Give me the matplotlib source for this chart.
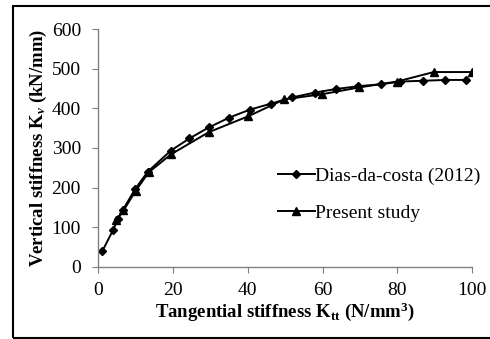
import matplotlib
matplotlib.use('Agg')
import matplotlib.pyplot as plt
from matplotlib.patches import Rectangle

plt.rcParams['font.family'] = ['Liberation Serif', 'DejaVu Serif']
plt.rcParams['mathtext.fontset'] = 'custom'
plt.rcParams['mathtext.rm'] = 'Liberation Serif:bold'
plt.rcParams['mathtext.bf'] = 'Liberation Serif:bold'
plt.rcParams['mathtext.it'] = 'Liberation Serif:bold:italic'

# Dias-da-costa (2012)
k_dias = [1.2, 4.0, 5.3, 6.7, 9.9, 13.3, 19.4, 24.4, 29.6, 35.1, 40.6, 46.2,
          51.9, 57.9, 63.5, 69.4, 75.5, 80.8, 86.9, 92.8, 98.3]
kv_dias = [40, 92, 120, 144, 196, 240, 293, 324, 352, 377, 397, 412,
           428, 440, 449, 456, 461, 468, 470, 472, 472]

# present study
k_pres = [4.9, 6.8, 10.1, 13.5, 19.5, 29.6, 40.1, 49.8, 59.9, 69.7, 79.9, 89.7, 99.9]
kv_pres = [117, 142, 192, 238, 284, 340, 380, 423, 436, 453, 468, 492, 492]

fig = plt.figure(figsize=(4.9, 3.39), dpi=100)
ax = fig.add_axes([0.200, 0.2135, 0.764, 0.700])

ax.plot(k_dias, kv_dias, color='black', lw=1.4, marker='D', ms=4.5,
        label='Dias-da-costa (2012)')
ax.plot(k_pres, kv_pres, color='black', lw=1.4, marker='^', ms=6,
        label='Present study')

ax.set_xlim(0, 100)
ax.set_ylim(0, 600)
ax.set_xticks(range(0, 101, 20))
ax.set_yticks(range(0, 601, 100))
for s in ['top', 'right']:
    ax.spines[s].set_visible(False)
for s in ['left', 'bottom']:
    ax.spines[s].set_color('#808080')
    ax.spines[s].set_linewidth(1)
ax.tick_params(direction='out', length=4.3, color='#808080', labelsize=14)
ax.tick_params(axis='y', pad=8)
ax.tick_params(axis='x', pad=6.5)

ax.set_xlabel(r'Tangential stiffness K$_{\mathrm{tt}}$ (N/mm$^{3}$)',
              fontsize=13.5, fontweight='bold', labelpad=1.5)
ax.set_ylabel(r'Vertical stiffness K$_{\mathit{v}}$ (kN/mm)',
              fontsize=13.5, fontweight='bold', labelpad=2)

ax.legend(loc='lower right', bbox_to_anchor=(1.067, 0.115), frameon=False,
          fontsize=14, handlelength=1.9, handletextpad=0.0, labelspacing=1.0)

# frame around the figure (no right edge visible)
fig.patches.append(Rectangle((13 / 490, 1.5 / 339), 1.2, 332 / 339,
                             transform=fig.transFigure, fill=False,
                             edgecolor='black', lw=1.5))

fig.savefig('out.png', dpi=100)
